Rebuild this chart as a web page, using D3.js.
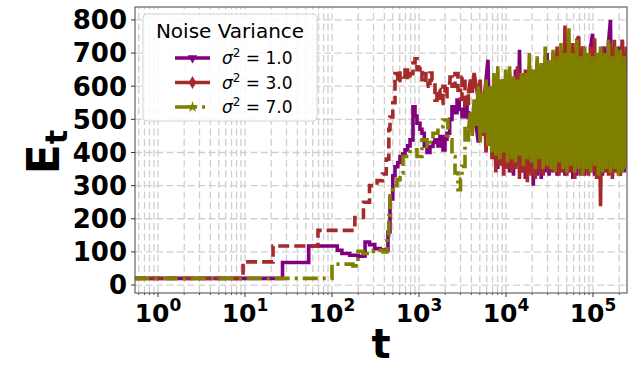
<!DOCTYPE html>
<html>
<head>
<meta charset="utf-8">
<script src="https://cdn.jsdelivr.net/npm/d3@7"></script>
<style>
  body { margin: 0; background: #fff; }
  text { font-family: "DejaVu Sans", sans-serif; }
</style>
</head>
<body>
<div id="chart"></div>
<script>
// legend labels / colours
const seriesNames = ['1.0', '3.0', '7.0']
const seriesColors = ['#800080', '#a52a2a', '#808000']
const seriesDash = [null, '11,5', '15,5,3,5']
const yTicks = [0, 100, 200, 300, 400, 500, 600, 700, 800]
const xTicks = [1, 10, 100, 1000, 10000, 100000]
const xExp = ['0', '1', '2', '3', '4', '5']

// early part of each run, [t, E_t]
const purpleEarly = [[0.54,20],[27,68],[54,118],[103,118],[115,105],[130,95],[160,90],[200,87],[230,88],[240,130],[270,122],[310,110],[360,106],[420,105],[440,160],[464,260],[500,330],[530,357],[570,370],[605,388],[650,395],[691,408],[740,420],[789,438],[853,538],[900,510],[948,488],[1026,470],[1082,458],[1150,420],[1236,400],[1337,418],[1448,430],[1527,438],[1650,420],[1742,448],[1888,408],[1990,440],[2099,458],[2250,500],[2394,538],[2600,520],[2735,558],[2900,530],[3120,508],[3381,548],[3564,520],[3700,500]]
const brownEarly = [[0.54,20],[9.5,70],[21,118],[69,165],[183,204],[230,250],[270,300],[330,315],[380,335],[420,380],[450,470],[464,507],[500,550],[530,638],[570,610],[605,640],[655,628],[691,658],[740,620],[789,638],[853,670],[900,683],[948,650],[1026,658],[1082,620],[1111,638],[1200,600],[1268,608],[1337,640],[1410,618],[1527,558],[1610,590],[1742,548],[1888,600],[1990,568],[2099,610],[2271,628],[2400,600],[2594,638],[2807,588],[3000,560],[3120,628],[3381,540],[3564,538],[3700,578]]
const oliveEarly = [[0.54,20],[100,20],[100,63],[174,58],[199,102],[227,95],[300,105],[386,100],[429,150],[450,210],[464,288],[503,300],[559,318],[605,338],[655,388],[720,395],[789,408],[948,388],[1082,438],[1236,418],[1350,440],[1448,458],[1652,478],[1888,498],[2154,438],[2394,388],[2594,338],[2807,288],[3000,320],[3120,358],[3381,478],[3564,438],[3700,470]]

// dense part, shared time grid
const tDense = [3900,4100,4300,4550,4800,5050,5300,5600,5900,6200,6550,6900,7250,7650,8050,8500,8950,9400,9900,10400,11000,11600,12200,12850,13550,14300,15050,15850,16700,17600,18550,19550,20600,21700,22850,24100,25400,26750,28200,29700,31300,33000,34750,36600,38600,40650,42850,45150,47600,50150,52850,55700,58700,61850,65150,68650,72350,76250,80350,84650,89200,94000,99050,104400,110000,115900,122100,128700,135600,142900,150600,158700,167200,176200,185700,195700,206200,217300,229000,241300]
const purpleDense = [520,470,540,480,430,500,450,560,620,680, 420,560,380,600,350,580,400,620,360,600, 340,620,330,650,360,710,340,640,320,620, 340,650,300,640,330,660,320,650,340,700, 330,660,340,690,330,670,340,700,330,680, 340,700,320,690,330,710,340,720,330,690, 340,720,758,330,700,320,710,330,720,340, 730,800,330,700,340,720,330,740,340,700]
const brownDense = [620,580,640,600,560,620,450,560,400,520, 600,380,560,340,600,360,620,330,580,350, 640,340,610,350,660,320,630,340,650,310, 660,330,640,320,680,340,660,330,690,350, 670,340,700,350,720,330,710,340,783,330, 700,340,730,320,740,750,330,720,340,700, 330,720,340,745,320,700,238,720,340,700, 330,730,320,740,340,700,330,740,350,720]
const oliveDense = [520,450,560,480,600,430,580,460,620,420, 600,400,640,390,660,380,620,400,650,370, 660,380,630,370,620,390,640,360,640,380, 700,370,650,350,690,380,670,350,720,360, 680,350,710,340,690,370,730,350,700,340, 775,360,700,340,740,350,690,330,720,350, 700,340,690,360,700,330,720,340,700,350, 740,340,690,350,720,330,710,340,690,350]

const W = 639, H = 367
const m = { left: 135, top: 7, right: 627, bottom: 293 }

const svg = d3.select('#chart').append('svg').attr('width', W).attr('height', H)

const x = d3.scaleLog().domain([0.544, 246000]).range([m.left, m.right])
const y = d3.scaleLinear().domain([-24, 839]).range([m.bottom, m.top])

svg.append('clipPath').attr('id', 'clip').append('rect')
  .attr('x', m.left).attr('y', m.top).attr('width', m.right - m.left).attr('height', m.bottom - m.top)

// grid, major + minor on x, major on y
var minor = []
for (let e = -1; e <= 5; e++) {
  for (let k = 2; k <= 9; k++) {
    let v = k * Math.pow(10, e)
    if (v > x.domain()[0] && v < x.domain()[1]) minor.push(v)
  }
}
const grid = svg.append('g').attr('stroke', '#cfcfcf').attr('stroke-width', 1.3).attr('stroke-dasharray', '7,3.5')
grid.selectAll('.vx').data(minor.concat(xTicks)).enter().append('line')
  .attr('x1', d => x(d)).attr('x2', d => x(d)).attr('y1', m.bottom).attr('y2', m.top)
grid.selectAll('.hy').data(yTicks).enter().append('line')
  .attr('x1', m.left).attr('x2', m.right).attr('y1', d => y(d)).attr('y2', d => y(d))

// lines: step part is dashed, the dense tail is so packed the dashes merge, draw it solid
const stepLine = d3.line().x(d => x(d[0])).y(d => y(d[1])).curve(d3.curveStepAfter)
const denseLine = d3.line().x(d => x(d[0])).y(d => y(d[1]))
const early = [purpleEarly, brownEarly, oliveEarly]
const dense = [purpleDense, brownDense, oliveDense]
const lines = svg.append('g').attr('clip-path', 'url(#clip)')
early.forEach((r, i) => {
  lines.append('path').datum(r)
    .attr('d', stepLine)
    .attr('fill', 'none')
    .attr('stroke', seriesColors[i])
    .attr('stroke-width', 3.6)
    .attr('stroke-dasharray', seriesDash[i])
  const tail = [r[r.length - 1]].concat(tDense.map((t, j) => [t, dense[i][j]]))
  lines.append('path').datum(tail)
    .attr('d', denseLine)
    .attr('fill', 'none')
    .attr('stroke', seriesColors[i])
    .attr('stroke-width', 3.6)
    .attr('stroke-linejoin', 'bevel')
})

// frame
svg.append('rect').attr('x', m.left).attr('y', m.top)
  .attr('width', m.right - m.left).attr('height', m.bottom - m.top)
  .attr('fill', 'none').attr('stroke', '#555').attr('stroke-width', 1.1)

// y axis
const yAx = svg.append('g')
yAx.selectAll('line').data(yTicks).enter().append('line')
  .attr('x1', m.left - 4).attr('x2', m.left).attr('y1', d => y(d)).attr('y2', d => y(d))
  .attr('stroke', '#333')
yAx.selectAll('text').data(yTicks).enter().append('text')
  .attr('x', m.left - 8).attr('y', d => y(d)).attr('dy', '0.36em')
  .attr('text-anchor', 'end').attr('font-size', 26).attr('font-weight', 'bold')
  .text(d => d)

// x axis
const xAx = svg.append('g')
xAx.selectAll('.mj').data(xTicks).enter().append('line')
  .attr('x1', d => x(d)).attr('x2', d => x(d)).attr('y1', m.bottom).attr('y2', m.bottom + 4)
  .attr('stroke', '#333')
xAx.selectAll('.mn').data(minor).enter().append('line')
  .attr('x1', d => x(d)).attr('x2', d => x(d)).attr('y1', m.bottom).attr('y2', m.bottom + 2)
  .attr('stroke', '#555')
const xl = xAx.selectAll('text').data(xTicks).enter().append('text')
  .attr('x', d => x(d)).attr('y', 322)
  .attr('text-anchor', 'middle').attr('font-size', 25).attr('font-weight', 'bold')
xl.append('tspan').text('10')
xl.append('tspan').attr('font-size', 17).attr('dy', -11).text((d, i) => xExp[i])

// axis labels
svg.append('text').attr('x', (m.left + m.right) / 2).attr('y', 358)
  .attr('text-anchor', 'middle').attr('font-size', 40).attr('font-weight', 'bold').text('t')
const yl = svg.append('text').attr('transform', 'translate(59,' + ((m.top + m.bottom) / 2 + 2) + ') rotate(-90)')
  .attr('text-anchor', 'middle').attr('font-size', 44).attr('font-weight', 'bold')
yl.append('tspan').text('E')
yl.append('tspan').attr('font-size', 30).attr('dy', 8).text('t')

// legend
const lg = svg.append('g')
lg.append('rect').attr('x', 143).attr('y', 14).attr('width', 174).attr('height', 107).attr('rx', 4)
  .attr('fill', '#fff').attr('fill-opacity', 0.85).attr('stroke', '#d4d4d4')
lg.append('text').attr('x', 230).attr('y', 38).attr('text-anchor', 'middle').attr('font-size', 20)
  .text('Noise Variance')
const symbols = [d3.symbol().type(d3.symbolTriangle).size(40), d3.symbol().type(d3.symbolDiamond).size(50), d3.symbol().type(d3.symbolStar).size(40)]
seriesNames.forEach((nm, i) => {
  const yy = 58 + i * 24.5
  lg.append('line').attr('x1', 175).attr('x2', 210).attr('y1', yy).attr('y2', yy)
    .attr('stroke', seriesColors[i]).attr('stroke-width', 3.6).attr('stroke-dasharray', i == 2 ? '22,5,3,5' : null)
  lg.append('path').attr('d', symbols[i]())
    .attr('transform', 'translate(192.5,' + yy + ')' + (i == 0 ? ' rotate(180)' : ''))
    .attr('fill', seriesColors[i])
  const tx = lg.append('text').attr('x', 222).attr('y', yy + 6).attr('font-size', 17)
  tx.append('tspan').attr('font-style', 'italic').text('σ')
  tx.append('tspan').attr('font-size', 12).attr('dy', -7).text('2')
  tx.append('tspan').attr('dy', 7).text(' = ' + nm)
})
</script>
</body>
</html>
